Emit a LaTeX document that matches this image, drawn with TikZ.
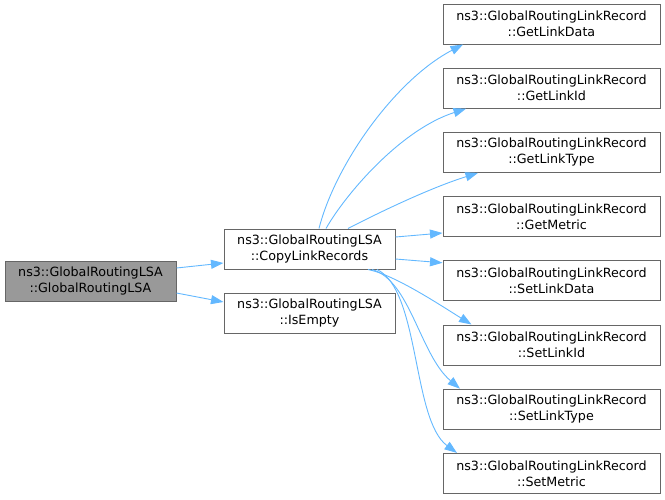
\documentclass[tikz,border=0pt]{standalone}
\usepackage{fontspec}
\setmainfont{DejaVu Sans}
\usetikzlibrary{arrows.meta}
\definecolor{edgeblue}{HTML}{63B8FF}
\definecolor{boxgray}{HTML}{666666}
\definecolor{rootfill}{HTML}{999999}
\tikzset{
  fnbox/.style={draw=boxgray, line width=1pt, fill=white, rectangle, inner sep=0pt,
    minimum height=40pt, align=center, font=\fontsize{12.7}{16}\selectfont},
  lsabox/.style={fnbox, minimum width=171pt},
  recbox/.style={fnbox, minimum width=217pt},
  rootbox/.style={lsabox, fill=rootfill},
  callarrow/.style={draw=edgeblue, line width=0.9pt, -{Triangle[length=12.5pt,width=9pt]}, fill=none}
}
\begin{document}
\begin{tikzpicture}[x=1pt,y=-1pt]
\useasboundingbox (0,0) rectangle (665,499);
\node[rootbox] (root) at (90.5,281) {ns3::GlobalRoutingLSA\\::GlobalRoutingLSA};
\node[lsabox] (copy) at (309.5,249) {ns3::GlobalRoutingLSA\\::CopyLinkRecords};
\node[lsabox] (empty) at (309.5,313) {ns3::GlobalRoutingLSA\\::IsEmpty};
\node[recbox] (gdata) at (551.5,24) {ns3::GlobalRoutingLinkRecord\\::GetLinkData};
\node[recbox] (gid) at (551.5,88.2) {ns3::GlobalRoutingLinkRecord\\::GetLinkId};
\node[recbox] (gtype) at (551.5,152.4) {ns3::GlobalRoutingLinkRecord\\::GetLinkType};
\node[recbox] (gmetric) at (551.5,216.6) {ns3::GlobalRoutingLinkRecord\\::GetMetric};
\node[recbox] (sdata) at (551.5,280.8) {ns3::GlobalRoutingLinkRecord\\::SetLinkData};
\node[recbox] (sid) at (551.5,345) {ns3::GlobalRoutingLinkRecord\\::SetLinkId};
\node[recbox] (stype) at (551.5,409.2) {ns3::GlobalRoutingLinkRecord\\::SetLinkType};
\node[recbox] (smetric) at (551.5,473.4) {ns3::GlobalRoutingLinkRecord\\::SetMetric};

\draw[callarrow] ([yshift=13pt]root.east) -- ([yshift=-14pt]copy.west);
\draw[callarrow] ([yshift=-12pt]root.east) -- ([yshift=11pt]empty.west);

\draw[callarrow] ([xshift=9.5pt]copy.north) .. controls (335,165) and (395,80) .. ([xshift=-88.5pt]gdata.south);
\draw[callarrow] ([xshift=16.5pt]copy.north) .. controls (345,195) and (400,130) .. ([xshift=-85.5pt]gid.south);
\draw[callarrow] ([xshift=38.5pt]copy.north) .. controls (380,212) and (430,188) .. ([xshift=-73.5pt]gtype.south);
\draw[callarrow] ([yshift=12pt]copy.east) -- ([yshift=-16.4pt]gmetric.west);
\draw[callarrow] ([yshift=-10pt]copy.east) -- ([yshift=18pt]sdata.west);
\draw[callarrow] ([xshift=58.5pt]copy.south) .. controls (395,275) and (440,305) .. ([xshift=-80pt]sid.north);
\draw[callarrow] ([xshift=62.5pt]copy.south) .. controls (410,280) and (420,355) .. ([xshift=-91.5pt]stype.north);
\draw[callarrow] ([xshift=67.5pt]copy.south) .. controls (420,290) and (412,420) .. ([xshift=-94.5pt]smetric.north);
\end{tikzpicture}
\end{document}
